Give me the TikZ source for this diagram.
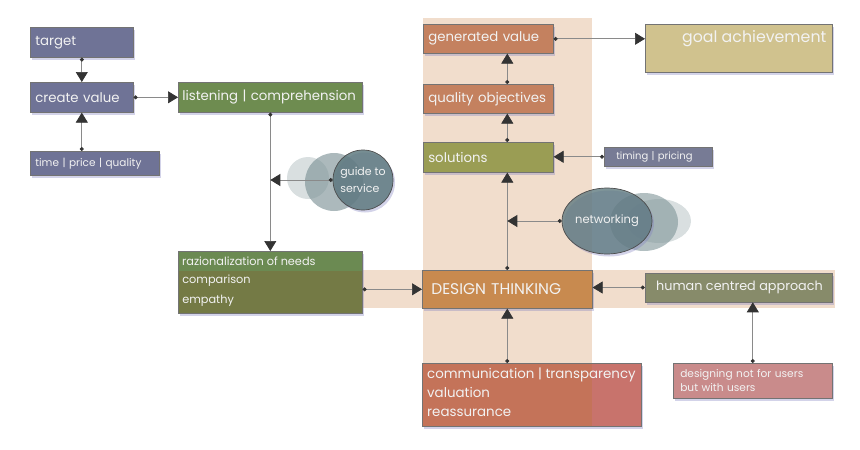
\documentclass[tikz,border=0pt]{standalone}
\usepackage{fontspec}
\setmainfont{Poppins}
\usetikzlibrary{arrows.meta,shadows,calc,shapes.geometric,fit}
\definecolor{slate}{HTML}{6F7396}
\definecolor{slatetwo}{HTML}{777B95}
\definecolor{lgreen}{HTML}{6E8C50}
\definecolor{olive}{HTML}{747A45}
\definecolor{rgreen}{HTML}{6B8A52}
\definecolor{terra}{HTML}{C4815F}
\definecolor{solgreen}{HTML}{9A9D54}
\definecolor{goalc}{HTML}{D0C28E}
\definecolor{dtc}{HTML}{C88A4F}
\definecolor{humanc}{HTML}{878B6A}
\definecolor{commc}{HTML}{C8736C}
\definecolor{commin}{HTML}{C47359}
\definecolor{desc}{HTML}{C98B8B}
\definecolor{band}{HTML}{F1DDCC}
\definecolor{teal}{HTML}{5F7A80}
\definecolor{tealmid}{HTML}{7F9498}
\definecolor{tealbk}{HTML}{B9C5C7}
\definecolor{txtc}{HTML}{F2F2F2}
\definecolor{linec}{HTML}{8A8A8A}
\definecolor{tipc}{HTML}{333333}
\tikzset{
  boxshadow/.style={drop shadow={shadow xshift=2pt,shadow yshift=-2.5pt,fill=black!50!blue!50,opacity=.35}},
  box/.style={draw=black!55,line width=0.6pt,anchor=north west,inner xsep=5pt,inner ysep=0pt,
     text=txtc,align=left,boxshadow},
  conn/.style={draw=linec,line width=0.7pt,
     {Circle[length=4pt,color=tipc]}-{Triangle[length=10pt,width=12pt,color=tipc]}},
  mainfont/.style={font=\fontsize{13.3}{15}\selectfont},
  smallfont/.style={font=\fontsize{10.5}{12}\selectfont},
}
\begin{document}
\begin{tikzpicture}[x=1pt,y=-1pt]
\useasboundingbox (0,0) rectangle (860,450);
% bands
\fill[band] (423,18) rectangle (592,427);
\fill[band] (362,270) rectangle (835,308);
% decorative circles (guide to service)
\fill[tealbk,opacity=.55] (308,178) circle (21);
\fill[tealmid,opacity=.65] (334,182) circle (29);
% decorative ellipses (networking)
\fill[tealbk,opacity=.55] (659,221) ellipse (32 and 22);
\fill[tealmid,opacity=.6] (644,222) ellipse (34 and 29);
% circle nodes
\node[circle,draw=black!70,line width=0.7pt,fill=teal,fill opacity=.85,text opacity=1,
      minimum size=60pt,inner sep=0pt,text=txtc,align=left,
      font=\fontsize{11}{17}\selectfont,boxshadow] (guide) at (363,180) {guide to\\service};
\node[ellipse,draw=black!70,line width=0.7pt,fill=teal,fill opacity=.8,text opacity=1,
      minimum width=78pt,minimum height=66pt,inner sep=0pt,text=txtc,
      font=\fontsize{11.5}{13}\selectfont,boxshadow] (net) at (607,221) {networking};
% boxes left
\node[box,fill=slate,mainfont,text width=93pt,minimum height=30pt] (target) at (30,27) {target};
\node[box,fill=slate,mainfont,text width=93pt,minimum height=30pt] (create) at (30,82) {create value};
\node[box,fill=slate,smallfont,text width=119pt,minimum height=24pt] (tpq) at (30,151) {time | price | quality};
\node[box,fill=lgreen,mainfont,inner xsep=4pt,text width=176pt,minimum height=30pt] (listen) at (178,82) {listening | comprehension};
% raz box (two tone)
\node[box,fill=olive,inner xsep=4pt,text width=176pt,minimum height=62pt,
      font=\fontsize{11.3}{19.5}\selectfont] (raz) at (178,251) {\phantom{x}\\comparison\\empathy};
\fill[rgreen] ([xshift=0.3pt,yshift=-0.3pt]raz.north west) rectangle ([xshift=-0.3pt]raz.east |- 0,271);
\draw[black!55,line width=0.6pt] (raz.north west) rectangle (raz.south east);
\node[text=txtc,anchor=west,inner sep=0pt,font=\fontsize{11.3}{13}\selectfont] (razt) at (182,261) {razionalization of needs};
% centre column
\node[box,fill=terra,mainfont,text width=120pt,minimum height=29pt] (gen) at (423,24) {generated value};
\node[box,fill=terra,mainfont,text width=120pt,minimum height=29pt] (qual) at (423,84) {quality objectives};
\node[box,fill=solgreen,mainfont,text width=120pt,minimum height=30pt] (sol) at (423,142) {solutions};
\node[box,fill=goalc,minimum width=187pt,minimum height=48pt] (goal) at (645,24) {};
\node[text=txtc,anchor=north east,inner sep=0pt,font=\fontsize{15.8}{17}\selectfont] (goalt) at ([xshift=-6pt,yshift=-6pt]goal.north east) {goal achievement};
\node[box,fill=slatetwo,font=\fontsize{10}{11}\selectfont,inner xsep=12pt,text width=84pt,minimum height=19pt] (timing) at (604,147) {timing | pricing};
\node[box,fill=dtc,font=\fontsize{15.5}{17}\selectfont,inner xsep=9pt,text width=152pt,minimum height=38pt] (dt) at (422,270) {DESIGN THINKING};
\node[box,fill=humanc,inner sep=0pt,fit={(645,273) (832,302)},anchor=center] (human) {};
\node[text=txtc,inner sep=0pt,font=\fontsize{12.8}{15}\selectfont] (humant) at ([xshift=1pt]human.center) {human centred approach};
\node[box,fill=desc,font=\fontsize{10.6}{14}\selectfont,inner xsep=7pt,text width=145pt,minimum height=35pt] (des) at (673,363) {designing not for users\\but with users};
\node[box,fill=commc,font=\fontsize{12}{19}\selectfont,inner xsep=5pt,text width=209pt,minimum height=63pt] (comm) at (422,363) {\phantom{x}\\\phantom{x}\\\phantom{x}};
\fill[commin] ([xshift=0.3pt,yshift=-0.3pt]comm.north west) rectangle ([yshift=0.3pt]592,426);
\draw[black!55,line width=0.6pt] (comm.north west) rectangle (comm.south east);
\node[text=txtc,anchor=west,inner sep=0pt,align=left,font=\fontsize{13.4}{19}\selectfont] (commt) at (427,392.5) {communication | transparency\\valuation\\reassurance};
% connectors
\draw[conn] (target.south) -- (create.north);
\draw[conn] (tpq.north -| create.south) -- (create.south);
\draw[conn] (create.east) -- (listen.west);
\draw[conn] (listen.south) -- (raz.north -| listen.south);
\coordinate (gmeet) at (guide.west -| listen.south);
\draw[conn] (guide.west) -- (gmeet);
\draw[conn] (raz.east |- dt.west) -- (dt.west);
\draw[conn] (dt.north) -- (dt.north |- sol.south);
\coordinate (nmeet) at (net.west -| dt.north);
\draw[conn] (net.west) -- (nmeet);
\draw[conn] (dt.north |- sol.north) -- (dt.north |- qual.south);
\draw[conn] (dt.north |- qual.north) -- (dt.north |- gen.south);
\draw[conn] (gen.east) -- (gen.east -| goal.west);
\draw[conn] (timing.west) -- (timing.west -| sol.east);
\draw[conn] (human.west) -- (human.west -| dt.east);
\draw[conn] (des.north) -- (des.north |- human.south);
\draw[conn] (dt.south |- comm.north) -- (dt.south);
\end{tikzpicture}
\end{document}
